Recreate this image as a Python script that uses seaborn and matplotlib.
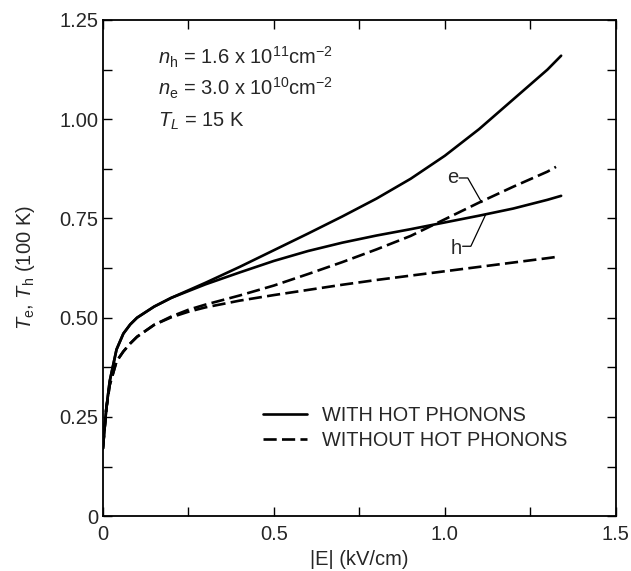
import numpy as np
import pandas as pd
import matplotlib
matplotlib.use("Agg")
import matplotlib.pyplot as plt
import seaborn as sns
from matplotlib.lines import Line2D
from matplotlib.ticker import MultipleLocator

# ---------------- data ----------------
x_hot = [0.0, 0.01, 0.02, 0.04, 0.06, 0.08, 0.10, 0.15, 0.20, 0.25, 0.30,
         0.40, 0.50, 0.60, 0.70, 0.80, 0.90, 1.00, 1.10, 1.20, 1.30, 1.34]
Te_hot = [0.17, 0.27, 0.34, 0.42, 0.46, 0.483, 0.50, 0.528, 0.550, 0.569, 0.588,
          0.628, 0.670, 0.712, 0.755, 0.800, 0.850, 0.908, 0.975, 1.050, 1.125, 1.16]
Th_hot = [0.17, 0.27, 0.34, 0.42, 0.46, 0.483, 0.50, 0.528, 0.550, 0.567, 0.584,
          0.614, 0.643, 0.668, 0.689, 0.707, 0.723, 0.740, 0.757, 0.775, 0.797, 0.807]

x_cold = [0.0, 0.01, 0.02, 0.04, 0.06, 0.08, 0.10, 0.15, 0.20, 0.25, 0.30,
          0.40, 0.50, 0.60, 0.70, 0.80, 0.90, 1.00, 1.10, 1.20, 1.30, 1.325]
Te_cold = [0.17, 0.27, 0.33, 0.39, 0.415, 0.435, 0.452, 0.482, 0.503, 0.520, 0.533,
           0.556, 0.581, 0.610, 0.640, 0.672, 0.706, 0.748, 0.790, 0.830, 0.868, 0.880]
Th_cold = [0.17, 0.27, 0.33, 0.39, 0.415, 0.435, 0.452, 0.482, 0.501, 0.515, 0.526,
           0.543, 0.557, 0.570, 0.583, 0.595, 0.606, 0.617, 0.628, 0.639, 0.650, 0.653]

legend_labels = ["WITH HOT PHONONS", "WITHOUT HOT PHONONS"]
param_lines = [r"$\mathit{n}_{\rm h}$ = 1.6 x 10$^{11}$cm$^{-2}$",
               r"$\mathit{n}_{\rm e}$ = 3.0 x 10$^{10}$cm$^{-2}$",
               r"$\mathit{T}_{\mathit{L}}$ = 15 K"]
param_y = [1.155, 1.077, 0.995]
param_x = 0.16

# curve labels and leader lines (annotation geometry)
e_label = (1.022, 0.852)
e_leader_x = [1.042, 1.067, 1.108]
e_leader_y = [0.852, 0.852, 0.790]
h_label = (1.032, 0.675)
h_leader_x = [1.052, 1.076, 1.120]
h_leader_y = [0.680, 0.680, 0.761]

# ---------------- build table ----------------
frames = []
for xs, ys, carrier, ph in [(x_hot, Te_hot, "e", legend_labels[0]),
                            (x_hot, Th_hot, "h", legend_labels[0]),
                            (x_cold, Te_cold, "e", legend_labels[1]),
                            (x_cold, Th_cold, "h", legend_labels[1])]:
    frames.append(pd.DataFrame({"E": xs, "T": ys, "carrier": carrier, "phonons": ph}))
df = pd.concat(frames, ignore_index=True)

# ---------------- style ----------------
sns.set_theme(style="ticks")
plt.rcParams["font.family"] = ["Liberation Sans", "DejaVu Sans"]
plt.rcParams["mathtext.fontset"] = "custom"
plt.rcParams["mathtext.rm"] = "Liberation Sans"
plt.rcParams["mathtext.it"] = "Liberation Sans:italic"
plt.rcParams["mathtext.bf"] = "Liberation Sans:bold"

fig = plt.figure(figsize=(6.31, 5.71), dpi=100)
ax = fig.add_axes([0.163, 0.096, 0.813, 0.869])

lw = 1.9
dash = (5.0, 2.0)
sns.lineplot(data=df, x="E", y="T", style="phonons", units="carrier",
             estimator=None, sort=False, color="black", linewidth=lw,
             dashes={legend_labels[0]: "", legend_labels[1]: dash},
             legend=False, ax=ax)

ax.set_xlim(0, 1.5)
ax.set_ylim(0, 1.25)
ax.xaxis.set_minor_locator(MultipleLocator(0.25))
ax.yaxis.set_minor_locator(MultipleLocator(0.125))
ax.set_xticks([0, 0.5, 1.0, 1.5])
ax.set_xticklabels(["0", "0.5", "1.0", "1.5"])
ax.set_yticks([0, 0.25, 0.5, 0.75, 1.0, 1.25])
ax.set_yticklabels(["0", "0.25", "0.50", "0.75", "1.00", "1.25"])
ax.tick_params(which="both", direction="in", top=True, right=True,
               length=6.5, width=1.0, color="black", labelsize=14.5)
ax.tick_params(axis="y", pad=3)
ax.tick_params(axis="x", pad=6)
for s in ax.spines.values():
    s.set_visible(True)
    s.set_linewidth(1.3)
    s.set_color("black")

ax.set_xlabel("|E| (kV/cm)", fontsize=14.5, labelpad=5)
ax.set_ylabel(r"$\mathit{T}_{\rm e}$, $\mathit{T}_{\rm h}$ (100 K)", fontsize=14.5, labelpad=16)

for txt, yy in zip(param_lines, param_y):
    ax.text(param_x, yy, txt, fontsize=14.5, va="center", ha="left")

ax.text(*e_label, "e", fontsize=14.5, ha="center", va="center")
ax.text(*h_label, "h", fontsize=14.5, ha="center", va="center")
ax.plot(e_leader_x, e_leader_y, color="black", linewidth=0.9)
ax.plot(h_leader_x, h_leader_y, color="black", linewidth=0.9)

handles = [Line2D([], [], color="black", linewidth=lw),
           Line2D([], [], color="black", linewidth=lw, dashes=dash)]
ax.legend(handles, legend_labels, loc="center left", bbox_to_anchor=(0.312, 0.178),
          frameon=False, fontsize=14.3, handlelength=2.2, handletextpad=0.8,
          labelspacing=0.3, borderpad=0, borderaxespad=0)

fig.savefig("out.png", dpi=100)
